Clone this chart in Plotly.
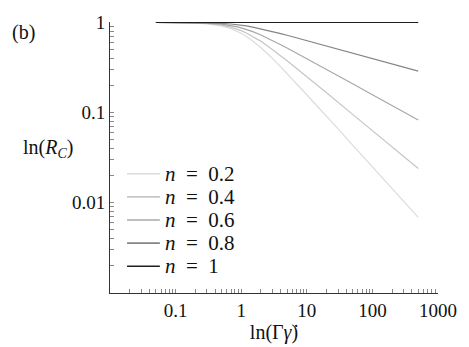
import plotly.graph_objects as go

# Shear-rate axis values (Gamma*gamma_dot)
x_vals = [0.05, 0.1, 0.2, 0.3, 0.5, 0.7, 0.85, 1, 1.2, 1.5, 2, 2.5, 3, 4, 5, 7, 10, 15, 20, 50, 100, 200, 500]

# R_C values for each n
rc_n02 = [0.999, 0.996, 0.984, 0.966, 0.915, 0.853, 0.805, 0.758, 0.700, 0.624, 0.525, 0.453, 0.398, 0.322, 0.272, 0.209, 0.158, 0.114, 0.0913, 0.0437, 0.0251, 0.0145, 0.0069]
rc_n04 = [0.999, 0.997, 0.988, 0.974, 0.935, 0.887, 0.849, 0.812, 0.765, 0.702, 0.617, 0.552, 0.501, 0.427, 0.376, 0.309, 0.251, 0.197, 0.166, 0.0956, 0.0631, 0.0417, 0.024]
rc_n06 = [1.0, 0.998, 0.992, 0.983, 0.956, 0.923, 0.897, 0.871, 0.837, 0.790, 0.725, 0.673, 0.631, 0.567, 0.521, 0.457, 0.398, 0.338, 0.302, 0.209, 0.158, 0.120, 0.083]
rc_n08 = [1.0, 0.999, 0.996, 0.991, 0.978, 0.961, 0.947, 0.933, 0.915, 0.889, 0.851, 0.820, 0.794, 0.753, 0.722, 0.676, 0.631, 0.582, 0.549, 0.457, 0.398, 0.347, 0.288]
rc_n10 = [1.0] * len(x_vals)

n_labels = ["0.2", "0.4", "0.6", "0.8", "1"]
series_vals = [rc_n02, rc_n04, rc_n06, rc_n08, rc_n10]
colors = ["#dcdcdc", "#c6c6c6", "#a8a8a8", "#858585", "#1e1e1e"]

x_major = [0.1, 1, 10, 100, 1000]
x_major_text = ["0.1", "1", "10", "100", "1000"]
y_major = [0.01, 0.1, 1]
y_major_text = ["0.01", "0.1", "1"]


def log_ticks(lo_exp, hi_exp, major, major_text):
    vals, texts = [], []
    for e in range(lo_exp, hi_exp + 1):
        for m in range(1, 10):
            v = round(m * 10.0 ** e, 10)
            if v > 10.0 ** hi_exp + 1e-9:
                break
            vals.append(v)
            lbl = ""
            for mv, mt in zip(major, major_text):
                if abs(mv - v) < 1e-9 * max(1, mv):
                    lbl = mt
            texts.append(lbl)
    return vals, texts


x_tv, x_tt = log_ticks(-2, 3, x_major, x_major_text)
y_tv, y_tt = log_ticks(-3, 0, y_major, y_major_text)

FONT = "Liberation Serif"
TXT = "#111111"

fig = go.Figure()
for lab, vals, col in zip(n_labels, series_vals, colors):
    fig.add_trace(go.Scatter(x=x_vals, y=vals, mode="lines", name="n = " + lab,
                             line=dict(color=col, width=1.2), showlegend=False))

axis_common = dict(
    type="log", showgrid=False, zeroline=False, showline=True,
    linecolor="#333333", linewidth=1, ticks="inside", ticklen=4,
    tickcolor="#888888", tickwidth=0.7,
    tickfont=dict(family=FONT, size=19, color=TXT),
)

fig.update_xaxes(**axis_common, range=[-2, 3], tickvals=x_tv, ticktext=x_tt,
                 title=dict(text="ln(Γ<i>γ̇</i>)", font=dict(family=FONT, size=20, color=TXT), standoff=0))
fig.update_yaxes(**axis_common, range=[-3, 0.005], tickvals=y_tv, ticktext=y_tt)

fig.add_annotation(text="ln(<i>R</i><sub><i>C</i></sub>)", xref="paper", yref="paper",
                   x=-0.19, y=0.532, xanchor="center", yanchor="middle", showarrow=False,
                   font=dict(family=FONT, size=20, color=TXT))
fig.add_annotation(text="(b)", xref="paper", yref="paper", x=-0.265, y=0.961,
                   xanchor="center", yanchor="middle", showarrow=False,
                   font=dict(family=FONT, size=20, color=TXT))

# Legend (drawn manually for tight LaTeX-like spacing)
leg_x0, leg_x1, leg_tx = 0.052, 0.152, 0.163
leg_top, leg_step = 0.440, 0.0853
for i, (lab, col) in enumerate(zip(n_labels, colors)):
    yy = leg_top - i * leg_step
    fig.add_shape(type="line", xref="paper", yref="paper", x0=leg_x0, x1=leg_x1, y0=yy, y1=yy,
                  line=dict(color=col, width=1.6))
    fig.add_annotation(text="<i>n</i>&nbsp;&nbsp;=&nbsp;&nbsp;" + lab, xref="paper", yref="paper",
                       x=leg_tx, y=yy, xanchor="left", yanchor="middle", showarrow=False,
                       font=dict(family=FONT, size=21, color=TXT))

fig.update_layout(
    width=469, height=347,
    margin=dict(l=110, r=30, t=14, b=49),
    paper_bgcolor="white", plot_bgcolor="white",
    showlegend=False,
)

fig.write_html("out.html")
